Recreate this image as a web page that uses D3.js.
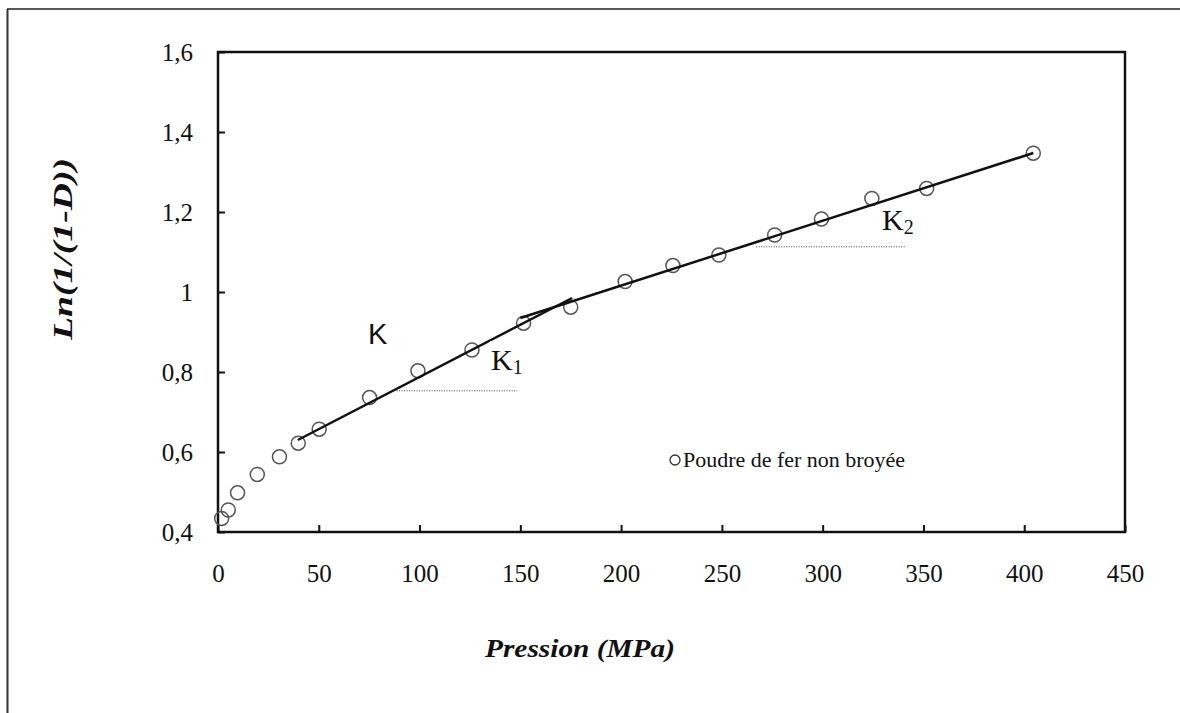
<!DOCTYPE html>
<html>
<head>
<meta charset="utf-8">
<script src="https://cdn.jsdelivr.net/npm/d3@7"></script>
<style>
  body { margin: 0; background: #fff; }
  svg text { fill: #111; }
</style>
</head>
<body>
<svg id="chart" width="1180" height="713"></svg>
<script>
// ---- data ----
const pression = [1.8, 5.1, 9.7, 19.5, 30.5, 39.8, 50.2, 75.2, 99.2, 126, 151.6, 175, 202, 225.7, 248.5, 276.2, 299.4, 324.4, 351.6, 404.5];
const lnValues = [0.434, 0.455, 0.498, 0.544, 0.588, 0.622, 0.657, 0.736, 0.803, 0.855, 0.922, 0.962, 1.026, 1.066, 1.0925, 1.1425, 1.1825, 1.234, 1.259, 1.347];

// linear fits (K1 and K2), endpoints
const fitK1 = [[39.6, 0.63], [175.7, 0.985]];
const fitK2 = [[150, 0.935], [404.5, 1.3475]];

// dotted reference lines under the slopes
const refK1 = [[88.6, 0.753], [148.5, 0.753]];
const refK2 = [[267, 1.113], [341, 1.113]];

const xTicks = [0, 50, 100, 150, 200, 250, 300, 350, 400, 450];
const yTicks = [0.4, 0.6, 0.8, 1.0, 1.2, 1.4, 1.6];

const legendLabel = 'Poudre de fer non broyée';

// ---- layout ----
const svg = d3.select('#chart');
const plot = { left: 218, top: 52, right: 1125, bottom: 532 };
const serif = '"Liberation Serif", "Times New Roman", serif';

const x = d3.scaleLinear().domain([0, 450]).range([plot.left, plot.right]);
const y = d3.scaleLinear().domain([0.4, 1.6]).range([plot.bottom, plot.top]);

const comma = d => String(+d.toFixed(1)).replace('.', ',');

// outer frame (only left and top edges show)
svg.append('line').attr('x1', 7.5).attr('x2', 7.5).attr('y1', 9).attr('y2', 713)
    .attr('stroke', '#333').attr('stroke-width', 2);
svg.append('line').attr('x1', 7).attr('x2', 1180).attr('y1', 9).attr('y2', 9)
    .attr('stroke', '#222').attr('stroke-width', 1.5);

// axes
const xAxis = svg.append('g')
    .attr('transform', `translate(0,${plot.bottom})`)
    .call(d3.axisBottom(x).tickValues(xTicks).tickSize(-7).tickPadding(32).tickFormat(d3.format('d')));

const yAxis = svg.append('g')
    .attr('transform', `translate(${plot.left},0)`)
    .call(d3.axisLeft(y).tickValues(yTicks).tickSize(-7).tickPadding(25).tickFormat(comma));

[xAxis, yAxis].forEach(a => {
    a.select('.domain').remove();
    a.selectAll('.tick line').attr('stroke', '#111').attr('stroke-width', 2);
    a.selectAll('.tick text')
        .attr('font-family', serif)
        .attr('font-size', 25)
        .attr('fill', '#111');
});

// plot frame
svg.append('rect')
    .attr('x', plot.left).attr('y', plot.top)
    .attr('width', plot.right - plot.left).attr('height', plot.bottom - plot.top)
    .attr('fill', 'none').attr('stroke', '#111').attr('stroke-width', 2.5);

// axis titles
svg.append('text')
    .attr('x', 580).attr('y', 657)
    .attr('text-anchor', 'middle')
    .attr('font-family', serif)
    .attr('font-size', 26).attr('font-weight', 'bold').attr('font-style', 'italic')
    .attr('textLength', 190).attr('lengthAdjust', 'spacingAndGlyphs')
    .text('Pression (MPa)');

svg.append('text')
    .attr('transform', 'translate(72,249) rotate(-90)')
    .attr('text-anchor', 'middle')
    .attr('font-family', serif)
    .attr('font-size', 27).attr('font-weight', 'bold').attr('font-style', 'italic')
    .attr('textLength', 182).attr('lengthAdjust', 'spacingAndGlyphs')
    .text('Ln(1/(1-D))');

// dotted reference lines
const line = d3.line().x(d => x(d[0])).y(d => y(d[1]));
[refK1, refK2].forEach(r => {
    svg.append('path').attr('d', line(r))
        .attr('fill', 'none').attr('stroke', '#444')
        .attr('stroke-width', 1).attr('stroke-dasharray', '1,1.5');
});

// data points
svg.append('g').selectAll('circle')
    .data(pression.map((p, i) => [p, lnValues[i]]))
    .join('circle')
    .attr('cx', d => x(d[0]))
    .attr('cy', d => y(d[1]))
    .attr('r', 7)
    .attr('fill', 'none')
    .attr('stroke', '#555')
    .attr('stroke-width', 1.5);

// fit lines
[fitK1, fitK2].forEach(f => {
    svg.append('path').attr('d', line(f))
        .attr('fill', 'none').attr('stroke', '#111').attr('stroke-width', 2.5);
});

// slope labels
svg.append('text')
    .attr('x', 368).attr('y', 344)
    .attr('font-family', '"Liberation Sans", Arial, sans-serif')
    .attr('font-size', 29)
    .text('K');

function subLabel(px, py, sub, box) {
    svg.append('rect')
        .attr('x', box[0]).attr('y', box[1]).attr('width', box[2]).attr('height', box[3])
        .attr('fill', '#fff');
    const t = svg.append('text')
        .attr('x', px).attr('y', py)
        .attr('font-family', serif)
        .attr('font-size', 30);
    t.append('tspan').text('K');
    t.append('tspan').attr('font-size', 20).attr('dy', 4).text(sub);
}
subLabel(491, 370, '1', [490, 341, 53, 39]);
subLabel(882, 230, '2', [881, 203, 47, 42]);

// legend
svg.append('circle')
    .attr('cx', 675).attr('cy', 460).attr('r', 5)
    .attr('fill', 'none').attr('stroke', '#333').attr('stroke-width', 1.3);
svg.append('text')
    .attr('x', 683).attr('y', 467)
    .attr('font-family', serif)
    .attr('font-size', 20)
    .attr('textLength', 222).attr('lengthAdjust', 'spacingAndGlyphs')
    .text(legendLabel);
</script>
</body>
</html>
